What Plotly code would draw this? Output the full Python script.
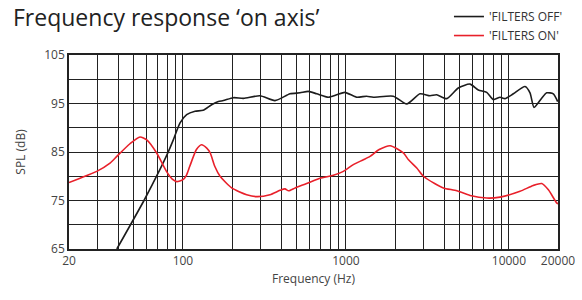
import plotly.graph_objects as go

# ---- data ----
off_freq = [39.3, 57.7, 72.3, 80, 87.3, 96, 105.4, 118.6, 133, 150, 165, 177, 204, 235, 297, 367,
            454, 523, 588, 662, 780, 878, 986, 1163, 1340, 1472, 1953, 2360, 2846, 3278, 3600,
            4150, 4890, 5770, 6490, 7310, 8020, 8820, 9460, 10640, 12550, 13470, 14260, 15880,
            17060, 18720, 19910]
off_db = [65, 75, 81.4, 84.5, 87.5, 91.0, 92.7, 93.4, 93.6, 94.75, 95.4, 95.6, 96.2, 96.05, 96.6, 95.6,
          97.0, 97.2, 97.5, 97.0, 96.3, 96.8, 97.3, 96.3, 96.5, 96.3, 96.5, 94.9, 97.0, 96.6, 96.8,
          96.0, 98.2, 99.0, 97.8, 97.3, 95.8, 96.3, 96.0, 97.0, 98.5, 97.2, 94.2, 96.1,
          97.2, 97.0, 95.4]

on_freq = [20, 23.4, 29.6, 35.7, 39.3, 47.3, 54.5, 60, 69, 79.6, 86, 91.5, 100, 105, 110, 121, 130,
           140, 147, 157, 169, 199, 246, 283, 342, 394, 423, 445, 488, 574, 693, 837, 964, 1110,
           1280, 1406, 1600, 1870, 2250, 2420, 2720, 2990, 3500, 3960, 4790, 5770, 7310, 8820,
           11700, 14100, 15900, 17460, 19630, 20000]
on_db = [78.7, 79.6, 81.0, 82.7, 84.1, 86.7, 88.1, 87.5, 84.8, 80.9, 79.4, 78.9, 79.3, 80.2, 82.0, 85.5,
         86.5, 85.8, 84.8, 82.0, 80.0, 77.6, 76.2, 75.8, 76.2, 77.1, 77.4, 77.0, 77.6, 78.5, 79.6, 80.2,
         81.0, 82.4, 83.4, 84.1, 85.5, 86.3, 84.8, 83.4, 81.7, 80.0, 78.5, 77.6, 77.0, 76.05, 75.5,
         75.7, 76.9, 78.1, 78.5, 77.2, 74.5, 74.3]

x_grid = [20, 30, 40, 50, 60, 70, 80, 90, 100, 200, 300, 400, 500, 600, 700, 800, 900,
          1000, 2000, 3000, 4000, 5000, 6000, 7000, 8000, 9000, 10000, 20000]
x_labels = {20: "20", 100: "100", 1000: "1000", 10000: "10000", 20000: "20000"}
y_grid = [65, 70, 75, 80, 85, 90, 95, 100, 105]
y_labels = {65: "65", 75: "75", 85: "85", 95: "95", 105: "105"}

FONT = "Open Sans, Noto Sans, sans-serif"

fig = go.Figure()
fig.add_trace(go.Scatter(x=off_freq, y=off_db, mode="lines", name="'FILTERS OFF'",
                         line=dict(color="#1c1c1c", width=1.6, shape="spline", smoothing=0.6)))
fig.add_trace(go.Scatter(x=on_freq, y=on_db, mode="lines", name="'FILTERS ON'",
                         line=dict(color="#e8202a", width=1.6, shape="spline", smoothing=0.6)))

fig.update_layout(
    width=582, height=300,
    margin=dict(l=69, r=24, t=55, b=51, autoexpand=False),
    paper_bgcolor="white", plot_bgcolor="white",
    font=dict(family=FONT, size=12, color="#444"),
    showlegend=True,
    legend=dict(x=0.777, y=1.273, xanchor="left", yanchor="top",
                font=dict(size=12, color="#333", family="Liberation Sans Narrow, Open Sans, sans-serif"),
                bgcolor="rgba(0,0,0,0)", itemwidth=30, tracegroupgap=0),
    annotations=[dict(text="Frequency response ‘on axis’", xref="paper", yref="paper",
                      x=-0.117, xanchor="left", y=1.2835, yanchor="top", showarrow=False,
                      borderpad=0,
                      font=dict(size=23, color="#222", family=FONT))],
    xaxis=dict(type="log", range=[1.30103, 4.30103], automargin=False,
               tickvals=x_grid, ticktext=[x_labels.get(v, "") for v in x_grid],
               showgrid=True, gridcolor="#222", gridwidth=1,
               showline=True, linecolor="#222", linewidth=1.5, mirror=True,
               ticks="", ticklen=0, zeroline=False,
               title=dict(text="Frequency (Hz)", standoff=6, font=dict(size=12, color="#444")),
               tickfont=dict(size=12, color="#444")),
    yaxis=dict(range=[65, 105], tickvals=y_grid, ticktext=[y_labels.get(v, "") for v in y_grid],
               automargin=False,
               showgrid=True, gridcolor="#222", gridwidth=1,
               showline=True, linecolor="#222", linewidth=1.5, mirror=True,
               ticks="", zeroline=False,
               title=dict(text="SPL (dB)", standoff=16, font=dict(size=12, color="#444")),
               tickfont=dict(size=12, color="#444")),
)

fig.write_html("out.html", config={"displayModeBar": False},
               post_script="document.body.style.margin='0';document.body.style.overflow='hidden';")
